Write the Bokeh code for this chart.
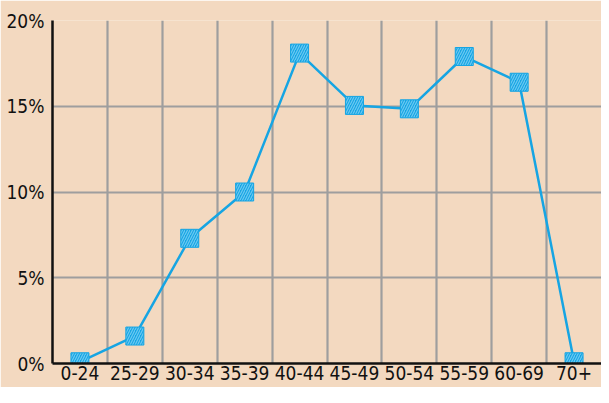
from bokeh.plotting import figure
from bokeh.models import FixedTicker, PrintfTickFormatter, Range1d, ColumnDataSource
from bokeh.embed import file_html
from bokeh.resources import INLINE

categories = ["0-24", "25-29", "30-34", "35-39", "40-44", "45-49", "50-54", "55-59", "60-69", "70+"]
values = [0.1, 1.6, 7.3, 10.0, 18.1, 15.05, 14.85, 17.9, 16.4, 0.1]
y_ticks = [0, 5, 10, 15, 20]

BG = "#f3d9c0"
BLUE = "#16a5e3"
GRID = "#9e9e9e"
FONT = "DejaVu Sans Condensed, Roboto, sans-serif"

xs = list(range(len(categories)))
src = ColumnDataSource(dict(x=xs, y=values, cat=categories))

p = figure(width=601, height=387, output_backend="svg", toolbar_location=None,
           x_range=Range1d(-0.5, len(categories) - 0.5), y_range=Range1d(0, 20),
           background_fill_color=BG, border_fill_color=BG,
           min_border_left=52, min_border_right=0, min_border_top=20, min_border_bottom=24)
p.outline_line_color = None

p.xaxis.ticker = FixedTicker(ticks=xs)
p.xaxis.major_label_overrides = {i: c for i, c in enumerate(categories)}
p.yaxis.ticker = FixedTicker(ticks=y_ticks)
p.yaxis.formatter = PrintfTickFormatter(format="%d%%")

for ax in (p.xaxis, p.yaxis):
    ax.axis_line_color = "#111111"
    ax.axis_line_width = 2.5
    ax.major_tick_line_color = None
    ax.minor_tick_line_color = None
    ax.major_tick_out = 0
    ax.major_tick_in = 0
    ax.major_label_text_font = FONT
    ax.major_label_text_font_size = "19px"
    ax.major_label_text_color = "#111111"
p.xaxis.major_label_standoff = 2
p.yaxis.major_label_standoff = 8

p.xgrid.ticker = FixedTicker(ticks=[i + 0.5 for i in xs[:-1]])
p.ygrid.ticker = FixedTicker(ticks=y_ticks)
for g in (p.xgrid, p.ygrid):
    g.grid_line_color = GRID
    g.grid_line_width = 2.2

p.line("x", "y", source=src, line_color=BLUE, line_width=2.5)
p.scatter("x", "y", source=src, marker="square", size=18, line_color=BLUE, line_width=1,
          fill_color=BLUE, fill_alpha=1.0, hatch_pattern="right_diagonal_line",
          hatch_color="#6cc9f2", hatch_scale=5, hatch_weight=1.2)

open("out.html", "w").write(file_html(p, INLINE))
